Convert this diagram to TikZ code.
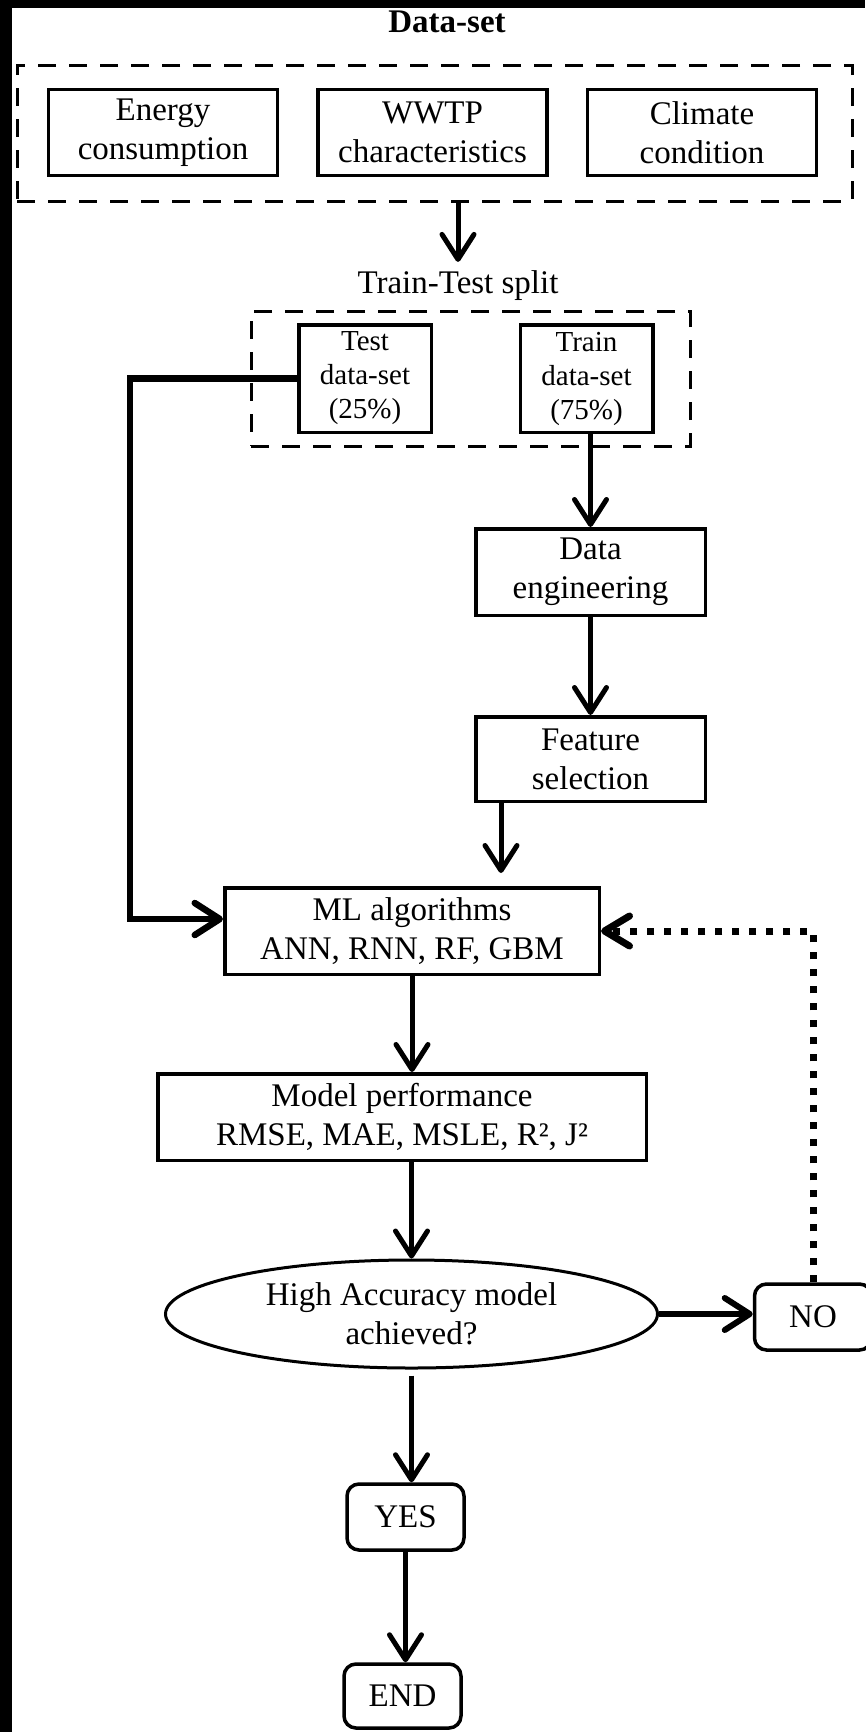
\documentclass[tikz,border=0pt]{standalone}
\usepackage{fontspec}
\setmainfont{Liberation Serif}
\usetikzlibrary{arrows.meta,shapes.geometric}
\begin{document}
\begin{tikzpicture}[x=1pt,y=-1pt,
  every node/.style={font=\fontsize{33}{39}\selectfont},
  box/.style={draw, line width=3.5pt, align=center, inner sep=0pt},
  smallbox/.style={box, font=\fontsize{29}{34}\selectfont, minimum width=132.5pt, minimum height=107.5pt},
  rbox/.style={box, rounded corners=12pt, minimum width=117pt, minimum height=66pt},
  dashbox/.style={draw, line width=3pt, dash pattern=on 18pt off 13pt, inner sep=0pt},
  arr/.style={line width=5pt, -{Straight Barb[length=25pt,width=32pt,round]}},
  dotarr/.style={line width=7pt, dash pattern=on 7pt off 10pt, -{Straight Barb[length=25pt,width=30pt,round]}}
]
\useasboundingbox (0,0) rectangle (865,1732);
\fill[black] (0,0) rectangle (865,8);
\fill[black] (0,0) rectangle (12,1732);

\node[font=\bfseries\fontsize{33}{40}\selectfont, anchor=base, inner sep=0pt] (title) at (447,32) {Data-set};
\node[dashbox, minimum width=835pt, minimum height=136pt] (dsbox) at (434.5,133) {};
\node[box, minimum width=229pt, minimum height=86pt] (energy) at (163,132.5) {Energy\\consumption};
\node[box, minimum width=229pt, minimum height=86pt] (wwtp) at (432.5,132.5) {WWTP\\characteristics};
\node[box, minimum width=229pt, minimum height=86pt] (climate) at (702,132.5) {Climate\\condition};

\node[anchor=base, inner sep=0pt] (split) at (458,293) {Train-Test split};
\node[dashbox, minimum width=439pt, minimum height=135pt] (tsbox) at (470.5,378.5) {};
\node[smallbox] (test) at (365,378.5) {Test\\data-set\\(25\%)};
\node[smallbox] (train) at (586.5,378.5) {Train\\data-set\\(75\%)};

\node[box, minimum width=229.5pt, minimum height=86.5pt] (de) at (590.5,572) {Data\\engineering};
\node[box, minimum width=229.5pt, minimum height=84.5pt] (fs) at (590.5,759) {Feature\\selection};
\node[box, minimum width=374.5pt, minimum height=86.5pt] (ml) at (412,931) {ML algorithms\\ANN, RNN, RF, GBM};
\node[box, minimum width=488.5pt, minimum height=86.5pt] (mp) at (402,1117) {Model performance\\RMSE, MAE, MSLE, R², J²};
\node[draw, ellipse, line width=3pt, inner sep=0pt, align=center, minimum width=492pt, minimum height=108pt] (acc) at (411.5,1314) {High Accuracy model\\achieved?};
\node[rbox] (no) at (813,1317) {NO};
\node[rbox] (yes) at (405.5,1517) {YES};
\node[rbox, minimum height=64pt] (end) at (402.5,1696) {END};

\coordinate (fsend) at (501,873);
\coordinate (tx) at (130,919);

\draw[arr] (dsbox.south -| split) -- ([yshift=8pt]split.north);
\draw[arr] (de.north |- train.south) -- (de.north);
\draw[arr] (de.south) -- (fs.north);
\draw[arr] (fs.south -| fsend) -- (fsend);
\draw[arr, line width=6.5pt] (test.west) -| (tx) -- (tx -| ml.west);
\draw[arr] (ml.south) -- (ml.south |- mp.north);
\draw[arr] (acc.north |- mp.south) -- (acc.north);
\draw[arr, line width=6pt] (acc.east) -- (acc.east -| no.west);
\draw[arr, shorten <=6pt] (acc.south) -- (acc.south |- yes.north);
\draw[arr] (yes.south) -- (yes.south |- end.north);
\draw[dotarr] (no.north) |- (ml.east);
\end{tikzpicture}
\end{document}
